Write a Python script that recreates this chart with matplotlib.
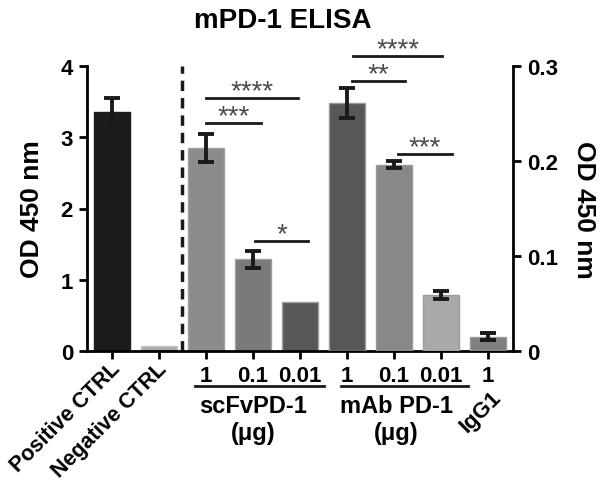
import matplotlib
matplotlib.use('Agg')
import matplotlib.pyplot as plt
import numpy as np

plt.rcParams['font.family'] = ['Liberation Sans', 'DejaVu Sans']
plt.rcParams['font.weight'] = 'bold'

# left axis: controls and scFv, OD 450 nm (0-4)
ctrl_names = ['Positive CTRL', 'Negative CTRL']
ctrl_vals = [3.35, 0.07]
ctrl_err = [0.20, 0.0]

scfv_doses = ['1', '0.1', '0.01']
scfv_vals = [2.85, 1.29, 0.69]
scfv_err = [0.20, 0.12, 0.0]

# right axis: mAb PD-1 and IgG1, OD 450 nm (0-0.3)
mab_doses = ['1', '0.1', '0.01']
mab_vals = [0.261, 0.196, 0.059]
mab_err = [0.016, 0.0035, 0.0045]

igg_dose = ['1']
igg_vals = [0.015]
igg_err = [0.0035]

ctrl_colors = ['#1c1c1c', '#ababab']
scfv_colors = ['#8c8c8c', '#7a7a7a', '#575757']
mab_colors = ['#575757', '#888888', '#a9a9a9']
igg_colors = ['#7f7f7f']

fig = plt.figure(figsize=(6, 4.85), dpi=100)
ax = fig.add_axes([87/600, 1-352/485, 426/600, 285/485])
ax2 = ax.twinx()

w = 0.76
ekw = dict(ecolor='#1a1a1a', elinewidth=2.8, capsize=5.5, capthick=2.8)

x_ctrl = np.arange(0, 2)
x_scfv = np.arange(2, 5)
x_mab = np.arange(5, 8)
x_igg = np.arange(8, 9)

ax.bar(x_ctrl, ctrl_vals, w, color=ctrl_colors, edgecolor=['#1c1c1c', '#c4c4c4'], linewidth=1)
ax.errorbar(x_ctrl[:1], ctrl_vals[:1], yerr=ctrl_err[:1], fmt='none', **ekw)
ax.bar(x_scfv, scfv_vals, w, color=scfv_colors, edgecolor='#a0a0a0', linewidth=1)
ax.errorbar(x_scfv[:2], scfv_vals[:2], yerr=scfv_err[:2], fmt='none', **ekw)
ax2.bar(x_mab, mab_vals, w, color=mab_colors, edgecolor='#9a9a9a', linewidth=1)
ax2.errorbar(x_mab, mab_vals, yerr=mab_err, fmt='none', **ekw)
ax2.bar(x_igg, igg_vals, w, color=igg_colors, edgecolor='#9a9a9a', linewidth=1)
ax2.errorbar(x_igg, igg_vals, yerr=igg_err, fmt='none', **ekw)

ax.set_xlim(-0.53, 8.53)
ax.set_ylim(0, 4)
ax2.set_ylim(0, 0.3)
ax.set_yticks([0, 1, 2, 3, 4])
ax2.set_yticks([0, 0.1, 0.2, 0.3])
ax2.set_yticklabels(['0', '0.1', '0.2', '0.3'])

ax.set_xticks(np.arange(9))
ax.set_xticklabels(['', ''] + scfv_doses + mab_doses + igg_dose)

for a in (ax, ax2):
    a.spines['top'].set_visible(False)
    for s in ['left', 'right', 'bottom']:
        a.spines[s].set_linewidth(2)
    a.tick_params(width=2, length=6, labelsize=16, pad=4)
ax.spines['right'].set_visible(False)
ax2.spines['left'].set_visible(False)
ax2.spines['bottom'].set_visible(False)

ax.set_ylabel('OD 450 nm', fontsize=19, fontweight='bold', labelpad=12)
ax2.set_ylabel('OD 450 nm', fontsize=19, fontweight='bold', labelpad=10, rotation=270, va='bottom')

fig.text(283/600, 1-21/485, 'mPD-1 ELISA', fontsize=20, fontweight='bold', ha='center', va='center')

# dashed separator
ax.axvline(1.5, color='#1a1a1a', lw=2.5, ls=(0, (3, 2)))

# rotated category labels
trans = ax.get_xaxis_transform()
for xi, name in zip(x_ctrl, ctrl_names):
    ax.text(xi - 0.05, -0.025, name, transform=trans, rotation=45, rotation_mode='anchor',
            ha='right', va='top', fontsize=15.5, fontweight='bold')
ax.text(8.05, -0.125, 'IgG1', transform=trans, rotation=45, rotation_mode='anchor',
        ha='right', va='top', fontsize=16, fontweight='bold')

# group underlines and labels
for x0, x1, xc, lab in [(1.77, 4.5, 3.0, 'scFvPD-1'), (4.87, 7.57, 6.05, 'mAb PD-1')]:
    ax.plot([x0, x1], [-0.123, -0.123], transform=trans, color='#1a1a1a', lw=2, clip_on=False)
    ax.text(xc, -0.19, lab, transform=trans, ha='center', va='center', fontsize=17, fontweight='bold')
    ax.text(xc, -0.285, '(\u03bcg)', transform=trans, ha='center', va='center', fontsize=17, fontweight='bold')

# significance bars (left-axis units)
sig = [(2.0, 3.95, 3.55, '****'), (2.0, 3.17, 3.20, '***'), (3.04, 4.17, 1.54, '*'),
       (5.13, 7.02, 4.14, '****'), (5.1, 6.23, 3.79, '**'), (6.09, 7.23, 2.76, '***')]
for x0, x1, y, s in sig:
    ax.plot([x0, x1], [y, y], color='#1a1a1a', lw=2, clip_on=False, zorder=5)
    ax.annotate(s, ((x0 + x1) / 2, y), xytext=(0, 0), textcoords='offset points',
                ha='center', va='baseline', fontsize=20, color='#4a4a4a',
                fontweight='normal', annotation_clip=False)

fig.savefig('out.png', dpi=100)
